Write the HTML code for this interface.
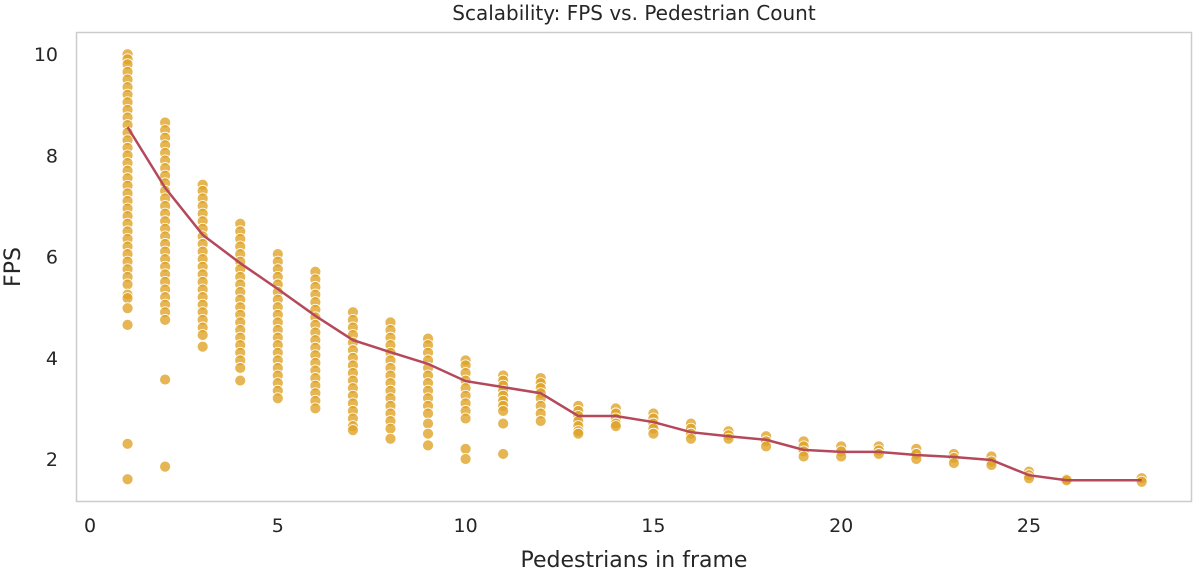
<!DOCTYPE html>
<html><head><meta charset="utf-8"><style>
body{margin:0;background:#fff}
svg text{font-family:"DejaVu Sans","Liberation Sans",sans-serif;fill:#262626}
</style></head><body>
<svg id="c" width="1200" height="574"></svg>
<script>
const lineX=[1,2,3,4,5,6,7,8,9,10,11,12,13,14,15,16,17,18,19,20,21,22,23,24,25,26,28];
const lineY=[8.56,7.36,6.43,5.87,5.36,4.83,4.35,4.11,3.88,3.54,3.42,3.30,2.85,2.85,2.73,2.53,2.45,2.38,2.18,2.14,2.14,2.08,2.04,1.98,1.68,1.58,1.58];
const colX=[1,2,3,4,5,6,7,8,9,10,11,12,13,14,15,16,17,18,19,20,21,22,23,24,25,26,28];
const colPts=[
[10.0,9.9,9.8,9.65,9.5,9.35,9.2,9.05,8.9,8.75,8.6,8.45,8.3,8.15,8.0,7.85,7.7,7.55,7.4,7.25,7.1,6.95,6.8,6.65,6.5,6.35,6.2,6.05,5.9,5.75,5.6,5.45,5.25,5.18,4.98,4.65,2.3,1.6],
[8.65,8.5,8.35,8.2,8.05,7.9,7.75,7.6,7.45,7.3,7.15,7.0,6.85,6.7,6.55,6.4,6.25,6.1,5.95,5.8,5.65,5.5,5.35,5.2,5.05,4.9,4.75,3.57,1.85],
[7.42,7.3,7.15,7.0,6.85,6.7,6.55,6.4,6.25,6.1,5.95,5.8,5.65,5.5,5.35,5.2,5.05,4.9,4.75,4.6,4.45,4.22],
[6.65,6.5,6.35,6.2,6.05,5.9,5.75,5.6,5.45,5.3,5.15,5.0,4.85,4.7,4.55,4.4,4.25,4.1,3.95,3.8,3.55],
[6.05,5.9,5.75,5.6,5.45,5.3,5.15,5.0,4.85,4.7,4.55,4.4,4.25,4.1,3.95,3.8,3.65,3.5,3.35,3.2],
[5.7,5.55,5.4,5.25,5.1,4.95,4.8,4.65,4.5,4.35,4.2,4.05,3.9,3.75,3.6,3.45,3.3,3.15,3.0],
[4.9,4.75,4.6,4.45,4.3,4.15,4.0,3.85,3.7,3.55,3.4,3.25,3.1,2.95,2.8,2.65,2.57],
[4.7,4.55,4.4,4.25,4.1,3.95,3.8,3.65,3.5,3.35,3.2,3.05,2.9,2.75,2.6,2.4],
[4.38,4.25,4.1,3.95,3.8,3.65,3.5,3.35,3.2,3.05,2.9,2.7,2.5,2.27],
[3.95,3.85,3.7,3.55,3.4,3.25,3.1,2.95,2.8,2.2,2.0],
[3.65,3.55,3.45,3.35,3.25,3.15,3.05,2.95,2.7,2.1],
[3.6,3.5,3.4,3.3,3.2,3.05,2.9,2.75],
[3.05,2.95,2.85,2.75,2.65,2.55,2.5],
[3.0,2.9,2.8,2.7,2.65],
[2.9,2.8,2.7,2.6,2.5],
[2.7,2.6,2.5,2.4],
[2.55,2.47,2.4],
[2.45,2.35,2.25],
[2.35,2.25,2.15,2.05],
[2.25,2.15,2.05],
[2.25,2.17,2.1],
[2.2,2.1,2.0],
[2.1,2.02,1.92],
[2.05,1.95,1.88],
[1.75,1.68,1.62],
[1.6,1.58],
[1.62,1.55]];
const xTicks=[0,5,10,15,20,25];
const yTicks=[2,4,6,8,10];
const NS="http://www.w3.org/2000/svg";
const svg=document.getElementById('c');
const X=v=>90+v*37.56;
const Y=v=>459-(v-2)*50.6;
function mk(t,a,p){const e=document.createElementNS(NS,t);for(const k in a)e.setAttribute(k,a[k]);(p||svg).appendChild(e);return e;}
const frame=mk('rect',{x:76.5,y:32.5,width:1115,height:469,fill:'none',stroke:'#cccccc','stroke-width':1.5});


const t=mk('text',{x:634,y:20,'text-anchor':'middle','font-size':20});t.textContent='Scalability: FPS vs. Pedestrian Count';


xTicks.forEach(v=>{const e=mk('text',{x:X(v),y:532,'text-anchor':'middle','font-size':19});e.textContent=v;

});
yTicks.forEach(v=>{const e=mk('text',{x:58,y:Y(v)+7,'text-anchor':'end','font-size':19});e.textContent=v;

});
const xl=mk('text',{x:634,y:567,'text-anchor':'middle','font-size':22});xl.textContent='Pedestrians in frame';


const yl=mk('text',{x:20,y:267,'text-anchor':'middle','font-size':22,transform:'rotate(-90 20 267)'});yl.textContent='FPS';


const g=mk('g',{});


colX.forEach((cx,i)=>colPts[i].forEach(v=>{const c=mk('circle',{cx:X(cx),cy:Y(v),r:5.5,fill:'#dea428','fill-opacity':0.8,stroke:'#ffffff','stroke-width':0.8},g);

}));
const pl=mk('polyline',{points:lineX.map((x,i)=>X(x)+','+Y(lineY[i])).join(' '),fill:'none',stroke:'#b5495b','stroke-width':2.5});


</script>
</body></html>
